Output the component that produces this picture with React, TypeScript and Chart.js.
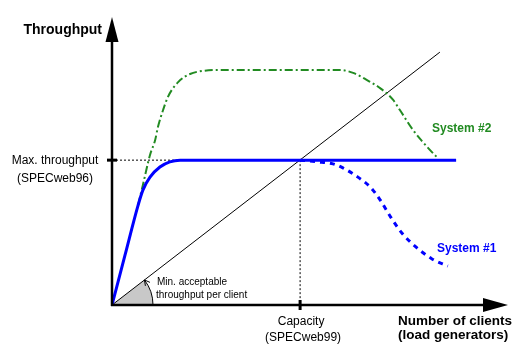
import React, { useEffect, useRef } from "react";
import { Chart, registerables } from "chart.js";

Chart.register(...registerables);

// Schematic values (x: number of clients, y: throughput)
const system1X = [0, 3.3, 6.6, 7.8, 9.6, 12.1, 14.6, 17.2, 47.5, 86.9];
const system1Y = [0, 17.4, 34.7, 39.9, 44.4, 47.9, 49.7, 50.3, 50.3, 50.3];

const system1DropX = [47.5, 51.8, 55.8, 58.3, 62.1, 65.2, 67.7, 70.2, 73.2, 76.8, 80.8, 84.8];
const system1DropY = [50.3, 49.7, 49.0, 47.6, 44.4, 41.0, 36.5, 30.9, 25.0, 20.1, 16.0, 13.5];

const system2X = [6.6, 7.8, 9.6, 10.9, 11.6, 12.9, 14.1, 16.7, 19.7, 23.0, 27.3, 57.6, 60.9, 64.4, 67.7, 71.0, 72.7, 76.0, 78.5, 80.8, 82.3];
const system2Y = [34.7, 41.7, 52.1, 57.3, 61.8, 67.7, 72.2, 77.4, 80.2, 81.3, 81.6, 81.6, 80.6, 78.1, 75.3, 71.2, 67.7, 60.8, 56.6, 53.1, 51.0];

const minPerClientX = [0, 82.8];
const minPerClientY = [0, 87.8];

const capacity = 47.5;
const maxThroughput = 50.3;

const yAxisTitle = "Throughput";
const xAxisTitle = ["Number of clients", "(load generators)"];
const maxLabel = ["Max. throughput", "(SPECweb96)"];
const capLabel = ["Capacity", "(SPECweb99)"];
const minLabel = ["Min. acceptable", "throughput per client"];
const sys1Label = "System #1";
const sys2Label = "System #2";

const GREEN = "#228B22";
const BLUE = "#0000FF";
const FONT = '"Liberation Sans", Arial, Helvetica, sans-serif';

const pts = (xs: number[], ys: number[]) => xs.map((v, i) => ({ x: v, y: ys[i] }));

const schematic = {
  id: "schematic",
  beforeDatasetsDraw(chart: any) {
    const { ctx, scales } = chart;
    const x = scales.x, y = scales.y;
    const ox = x.getPixelForValue(0), oy = y.getPixelForValue(0);
    const ex = x.getPixelForValue(minPerClientX[1]), ey = y.getPixelForValue(minPerClientY[1]);
    const ang = Math.atan2(ey - oy, ex - ox);
    const r = 41;
    ctx.save();
    ctx.beginPath();
    ctx.moveTo(ox, oy);
    ctx.arc(ox, oy, r, ang, 0);
    ctx.closePath();
    ctx.fillStyle = "#c8c8c8";
    ctx.fill();
    ctx.beginPath();
    ctx.arc(ox, oy, r, ang, 0);
    ctx.strokeStyle = "#000";
    ctx.lineWidth = 1;
    ctx.stroke();
    // small arrow head at the top end of the arc
    const px = ox + r * Math.cos(ang), py = oy + r * Math.sin(ang);
    const dx = Math.sin(ang), dy = -Math.cos(ang);
    const L = 6;
    ctx.beginPath();
    for (const s of [0.5, -0.5]) {
      const c = Math.cos(s), sn = Math.sin(s);
      const rx = dx * c - dy * sn, ry = dx * sn + dy * c;
      ctx.moveTo(px, py);
      ctx.lineTo(px - rx * L, py - ry * L);
    }
    ctx.stroke();
    ctx.restore();
  },
  afterDraw(chart: any) {
    const { ctx, scales } = chart;
    const x = scales.x, y = scales.y;
    const ox = x.getPixelForValue(0), oy = y.getPixelForValue(0);
    const top = y.top, right = x.right;
    ctx.save();
    ctx.fillStyle = "#000";
    ctx.strokeStyle = "#000";
    // axes
    ctx.lineWidth = 2.5;
    ctx.beginPath();
    ctx.moveTo(ox, oy + 1);
    ctx.lineTo(ox, top + 24);
    ctx.moveTo(ox - 1, oy);
    ctx.lineTo(right - 24, oy);
    ctx.stroke();
    // arrow heads
    ctx.beginPath();
    ctx.moveTo(ox, top);
    ctx.lineTo(ox + 6.5, top + 25);
    ctx.lineTo(ox - 6.5, top + 25);
    ctx.closePath();
    ctx.fill();
    ctx.beginPath();
    ctx.moveTo(right, oy);
    ctx.lineTo(right - 25, oy - 7);
    ctx.lineTo(right - 25, oy + 7);
    ctx.closePath();
    ctx.fill();
    // ticks
    const my = y.getPixelForValue(maxThroughput);
    const cx = x.getPixelForValue(capacity);
    ctx.fillRect(ox - 5, my - 1.5, 10, 3);
    ctx.fillRect(cx - 1.5, oy - 5, 3, 10);

    // texts
    ctx.textBaseline = "alphabetic";
    ctx.font = `bold 14px ${FONT}`;
    ctx.textAlign = "right";
    ctx.fillText(yAxisTitle, ox - 10, top + 17);

    ctx.font = `12px ${FONT}`;
    ctx.textAlign = "center";
    ctx.fillText(maxLabel[0], 55, my + 4);
    ctx.fillText(maxLabel[1], 55, my + 22);
    ctx.fillText(capLabel[0], cx + 1, oy + 20);
    ctx.fillText(capLabel[1], cx + 3, oy + 36);

    ctx.font = `10px ${FONT}`;
    ctx.textAlign = "left";
    ctx.fillText(minLabel[0], ox + 45, oy - 20);
    ctx.fillText(minLabel[1], ox + 44, oy - 7);

    ctx.font = `bold 13.5px ${FONT}`;
    ctx.textAlign = "left";
    ctx.fillText(xAxisTitle[0], 398, oy + 20);
    ctx.fillText(xAxisTitle[1], 398, oy + 34);

    ctx.font = `bold 12px ${FONT}`;
    ctx.fillStyle = GREEN;
    ctx.fillText(sys2Label, 432, 132);
    ctx.fillStyle = BLUE;
    ctx.fillText(sys1Label, 437, 252);
    ctx.restore();
  },
};

export default function App() {
  const ref = useRef<HTMLCanvasElement>(null);
  useEffect(() => {
    if (!ref.current) return;
    const chart = new Chart(ref.current, {
      type: "scatter",
      data: {
        datasets: [
          {
            label: "System #1",
            data: pts(system1X, system1Y),
            showLine: true,
            borderColor: BLUE,
            borderWidth: 3,
            pointRadius: 0,
            cubicInterpolationMode: "monotone",
          },
          {
            label: "System #1 (overload)",
            data: pts(system1DropX, system1DropY),
            showLine: true,
            borderColor: BLUE,
            borderWidth: 3,
            borderDash: [5, 5],
            pointRadius: 0,
            cubicInterpolationMode: "monotone",
          },
          {
            label: "System #2",
            data: pts(system2X, system2Y),
            showLine: true,
            borderColor: GREEN,
            borderWidth: 2,
            borderDash: [8, 3, 2, 3],
            pointRadius: 0,
            cubicInterpolationMode: "monotone",
          },
          {
            label: "Min. acceptable throughput per client",
            data: pts(minPerClientX, minPerClientY),
            showLine: true,
            borderColor: "#000",
            borderWidth: 1,
            pointRadius: 0,
          },
          {
            label: "max guide",
            data: [
              { x: 0, y: maxThroughput },
              { x: capacity, y: maxThroughput },
            ],
            showLine: true,
            borderColor: "#000",
            borderWidth: 1,
            borderDash: [2, 2],
            pointRadius: 0,
          },
          {
            label: "capacity guide",
            data: [
              { x: capacity, y: maxThroughput },
              { x: capacity, y: 0 },
            ],
            showLine: true,
            borderColor: "#000",
            borderWidth: 1,
            borderDash: [2, 2],
            pointRadius: 0,
          },
        ],
      } as any,
      options: {
        animation: false,
        responsive: false,
        devicePixelRatio: 1,
        layout: { padding: { left: 112, top: 17, right: 20, bottom: 52 } },
        scales: {
          x: { type: "linear", min: 0, max: 100, display: false },
          y: { type: "linear", min: 0, max: 100, display: false },
        },
        plugins: { legend: { display: false }, tooltip: { enabled: false } },
        events: [],
      } as any,
      plugins: [schematic],
    });
    return () => chart.destroy();
  }, []);
  return (
    <div style={{ position: "absolute", left: 0, top: 0, width: 528, height: 357, background: "#fff" }}>
      <canvas ref={ref} width={528} height={357} />
    </div>
  );
}
